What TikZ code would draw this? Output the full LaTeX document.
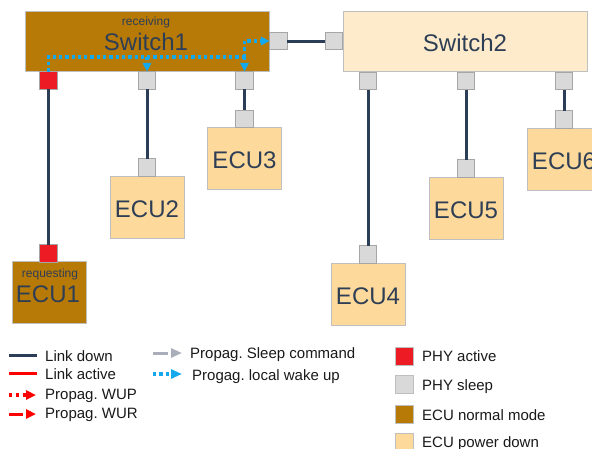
\documentclass[tikz,border=0pt]{standalone}
\usepackage{fontspec}
\setmainfont{Liberation Sans}
\usetikzlibrary{arrows.meta}
\definecolor{gold}{HTML}{B87A06}
\definecolor{peach}{HTML}{FDDA9B}
\definecolor{peachlt}{HTML}{FDEBCC}
\definecolor{navy}{HTML}{2C3D57}
\definecolor{txt}{HTML}{2E3E55}
\definecolor{phyred}{HTML}{ED1C24}
\definecolor{phygrey}{HTML}{D9D9D9}
\definecolor{wakeblue}{HTML}{14A9EC}
\definecolor{sleepgrey}{HTML}{A9AEBA}
\definecolor{boxborder}{HTML}{BFBFBF}
\definecolor{portborder}{HTML}{A6A6A6}
\frenchspacing
\begin{document}
\begin{tikzpicture}[x=1pt,y=-1pt,
 box/.style={draw=boxborder,line width=0.8pt,inner sep=0pt,outer sep=0pt},
 ecu/.style={box,fill=peach,minimum width=74pt,minimum height=62pt},
 ecuon/.style={box,fill=gold,minimum width=74pt,minimum height=62pt},
 switchbox/.style={box,minimum width=244pt,minimum height=60pt},
 port/.style={draw=portborder,line width=0.8pt,fill=phygrey,minimum size=17.5pt,inner sep=0pt,outer sep=0pt},
 portact/.style={port,fill=phyred},
 link/.style={navy,line width=3pt},
 big/.style={text=txt,font=\fontsize{24}{28}\selectfont,inner sep=0pt,anchor=base},
 small/.style={text=txt,font=\fontsize{12}{14}\selectfont,inner sep=0pt,anchor=base},
 legtext/.style={text=black!90,font=\frenchspacing\fontsize{15}{18}\selectfont,inner sep=0pt,anchor=base west},
 wake/.style={wakeblue,line width=3.3pt,dash pattern=on 3.3pt off 3pt},
 tip/.style={-{Triangle[length=9pt,width=8.5pt]}},
 legsq/.style={draw=boxborder,line width=0.8pt,minimum size=18pt,inner sep=0pt},
]
\useasboundingbox (0,0) rectangle (592,448);
\clip (0,0) rectangle (592,448);

% switches
\node[switchbox,fill=gold] (sw1) at (147,41) {};
\node[switchbox,fill=peachlt] (sw2) at (465,41) {};
\node[small] (sw1s) at (146,25) {receiving};
\node[big] (sw1t) at (146,50) {Switch1};
\node[big] (sw2t) at (465,51) {Switch2};

% switch ports
\node[portact] (p1a) at (48.5,80.5) {};
\node[port] (p1b) at (147,80.5) {};
\node[port] (p1c) at (244.5,80.5) {};
\node[port] (p1r) at (278.5,41) {};
\node[port] (p2l) at (334,41) {};
\node[port] (p2a) at (368,81) {};
\node[port] (p2b) at (466,81) {};
\node[port] (p2c) at (564,81) {};

% ECUs
\node[ecuon] (e1) at (49,292.5) {};
\node[ecu] (e2) at (147,207) {};
\node[ecu] (e3) at (244.5,158.5) {};
\node[ecu] (e4) at (368,294) {};
\node[ecu] (e5) at (466,208) {};
\node[ecu] (e6) at (564,159) {};
\node[small] (e1s) at (50,277) {requesting};
\node[big] (e1t) at (48,302.5) {ECU1};
\node[big] (e2t) at (147,217) {ECU2};
\node[big] (e3t) at (244.5,168) {ECU3};
\node[big] (e4t) at (368,304) {ECU4};
\node[big] (e5t) at (466,218) {ECU5};
\node[big] (e6t) at (564,169) {ECU6};

% ECU ports
\node[portact] (e1p) at (48.5,253.5) {};
\node[port] (e2p) at (147,167.5) {};
\node[port] (e3p) at (244.5,119) {};
\node[port] (e4p) at (368,254.5) {};
\node[port] (e5p) at (466,168.5) {};
\node[port] (e6p) at (564,119.5) {};

% links
\draw[link] (p1a.south) -- (e1p.north);
\draw[link] (p1b.south) -- (e2p.north);
\draw[link] (p1c.south) -- (e3p.north);
\draw[link] (p1r.east) -- (p2l.west);
\draw[link] (p2a.south) -- (e4p.north);
\draw[link] (p2b.south) -- (e5p.north);
\draw[link] (p2c.south) -- (e6p.north);

% local wake up propagation
\coordinate (bj) at (244.5,57);
\draw[wake] (p1a.north) |- (bj);
\draw[wake,tip] (p1b.north |- bj) -- (p1b.north);
\draw[wake,tip] (bj) -- (p1c.north);
\draw[wake,tip] (bj) |- (p1r.west);

% legend
\coordinate (la1) at (9,355); \coordinate (la2) at (37,355);
\coordinate (lb1) at (9,373); \coordinate (lb2) at (37,373);
\coordinate (lc1) at (9,395); \coordinate (lc2) at (36,395);
\coordinate (ld1) at (9,414); \coordinate (ld2) at (36,414);
\coordinate (le1) at (153,353); \coordinate (le2) at (182,353);
\coordinate (lf1) at (153,374); \coordinate (lf2) at (182,374);
\draw[link] (la1) -- (la2);
\draw[red,line width=3pt] (lb1) -- (lb2);
\draw[red,line width=3.2pt,dash pattern=on 3.3pt off 3.5pt,-{Triangle[length=10pt,width=9pt]}] (lc1) -- (lc2);
\draw[red,line width=3pt,dash pattern=on 14pt off 20pt,-{Triangle[length=10pt,width=9pt]}] (ld1) -- (ld2);
\draw[sleepgrey,line width=3pt,dash pattern=on 15pt off 20pt,-{Triangle[length=11pt,width=9pt]}] (le1) -- (le2);
\draw[wake,-{Triangle[length=11pt,width=9pt]}] (lf1) -- (lf2);
\node[legtext] (lta) at (45,361) {Link down};
\node[legtext] (ltb) at (45,379) {Link active};
\node[legtext] (ltc) at (45,399) {Propag. WUP};
\node[legtext] (ltd) at (45,418) {Propag. WUR};
\node[legtext] (lte) at (190,358) {Propag. Sleep command};
\node[legtext] (ltf) at (192,380) {Progag. local wake up};

\node[legsq,fill=phyred] (sqa) at (404,356) {};
\node[legsq,fill=phygrey] (sqb) at (404,384.5) {};
\node[legsq,fill=gold] (sqc) at (404,414.5) {};
\node[legsq,fill=peach] (sqd) at (404,442) {};
\node[legtext] (ltg) at (422,361.5) {PHY active};
\node[legtext] (lth) at (422,390) {PHY sleep};
\node[legtext] (lti) at (422,420) {ECU normal mode};
\node[legtext] (ltj) at (422,447.5) {ECU power down};
\end{tikzpicture}
\end{document}
